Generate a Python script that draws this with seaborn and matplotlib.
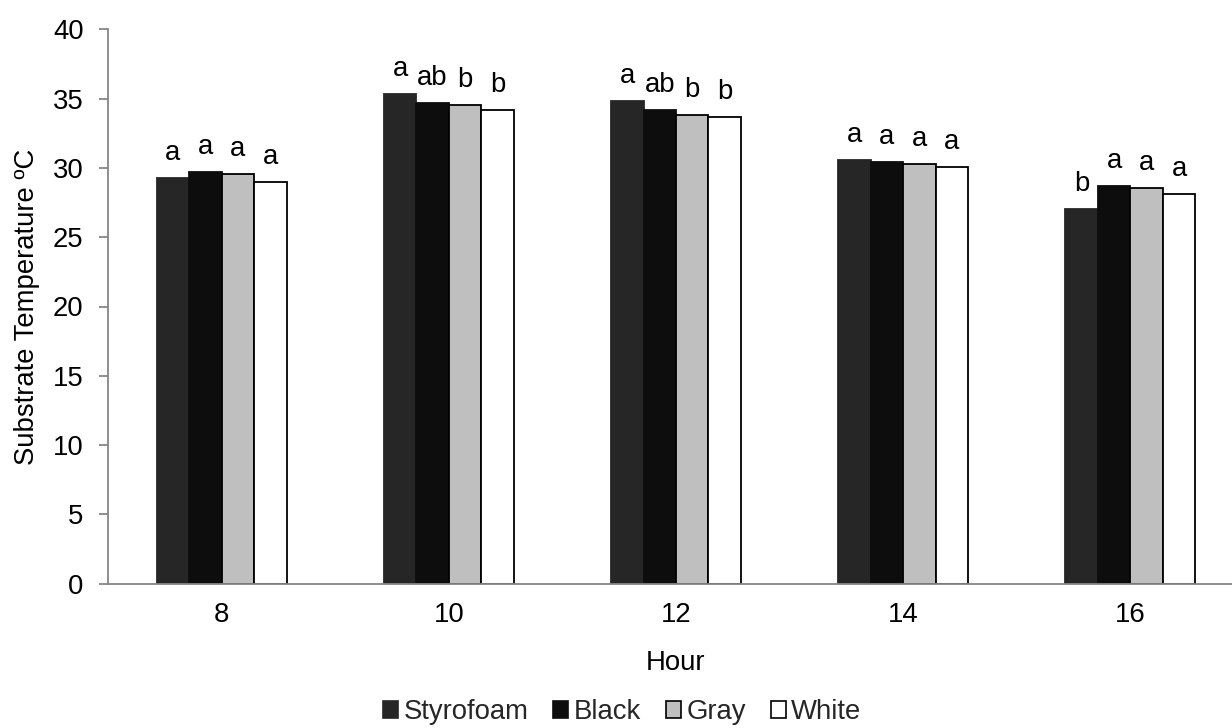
import matplotlib
matplotlib.use("Agg")
import matplotlib.pyplot as plt
import seaborn as sns
import pandas as pd
from matplotlib.patches import Patch

hours = ["8", "10", "12", "14", "16"]
treatments = ["Styrofoam", "Black", "Gray", "White"]
styrofoam = [29.25, 35.3, 34.8, 30.6, 27.0]
black = [29.7, 34.7, 34.2, 30.45, 28.7]
gray = [29.55, 34.55, 33.85, 30.25, 28.55]
white = [28.95, 34.2, 33.65, 30.05, 28.15]
letters_styrofoam = ["a", "a", "a", "a", "b"]
letters_black = ["a", "ab", "ab", "a", "a"]
letters_gray = ["a", "b", "b", "a", "a"]
letters_white = ["a", "b", "b", "a", "a"]

fills = ["#262626", "#0d0d0d", "#bfbfbf", "#ffffff"]
edges = ["#262626", "#0d0d0d", "#000000", "#000000"]

series = [styrofoam, black, gray, white]
letters = [letters_styrofoam, letters_black, letters_gray, letters_white]

rows = []
for t, vals in zip(treatments, series):
    for h, v in zip(hours, vals):
        rows.append({"Hour": h, "Treatment": t, "Temp": v})
df = pd.DataFrame(rows)

sns.set_theme(style="white")
plt.rcParams["font.family"] = ["Liberation Sans", "DejaVu Sans"]
FS = 19.8

fig = plt.figure(figsize=(12.32, 7.28), dpi=100)
ax = fig.add_axes([108 / 1232, (728 - 583.7) / 728, (1244 - 108) / 1232, (583.7 - 29.3) / 728])

sns.barplot(data=df, x="Hour", y="Temp", hue="Treatment", order=hours,
            hue_order=treatments, palette=fills, width=0.572, gap=0,
            dodge=True, ax=ax, legend=False, errorbar=None, saturation=1)

for ci, cont in enumerate(ax.containers):
    for pi, p in enumerate(cont.patches):
        p.set_edgecolor(edges[ci])
        p.set_linewidth(1.3)
        xc = p.get_x() + p.get_width() / 2
        ax.text(xc, p.get_height() + 1.3, letters[ci][pi], ha="center",
                va="baseline", fontsize=FS, color="black")

ax.set_ylim(0, 40)
ax.set_yticks(range(0, 41, 5))
ax.set_xlim(-0.5, 4.5)
for s in ["top", "right"]:
    ax.spines[s].set_visible(False)
for s in ["left", "bottom"]:
    ax.spines[s].set_color("#868686")
    ax.spines[s].set_linewidth(1.3)
ax.tick_params(axis="y", which="both", left=True, length=6.5, width=1.3,
               color="#868686", labelsize=FS, pad=11, labelcolor="black")
ax.tick_params(axis="x", bottom=False, labelsize=FS, pad=7, labelcolor="black")
ax.set_xlabel("Hour", fontsize=FS, labelpad=16, color="black")
ax.set_ylabel("Substrate Temperature ºC", fontsize=FS, labelpad=9, color="black")
ax.grid(False)

handles = [Patch(facecolor=f, edgecolor=e, linewidth=1.2) for f, e in zip(fills, edges)]
fig.legend(handles, treatments, loc="center", bbox_to_anchor=(0.505, 1 - 712 / 728),
           ncol=4, frameon=False, fontsize=FS, handlelength=0.55, handleheight=0.55,
           handletextpad=0.2, columnspacing=0.9)

fig.savefig("out.png", dpi=100)
